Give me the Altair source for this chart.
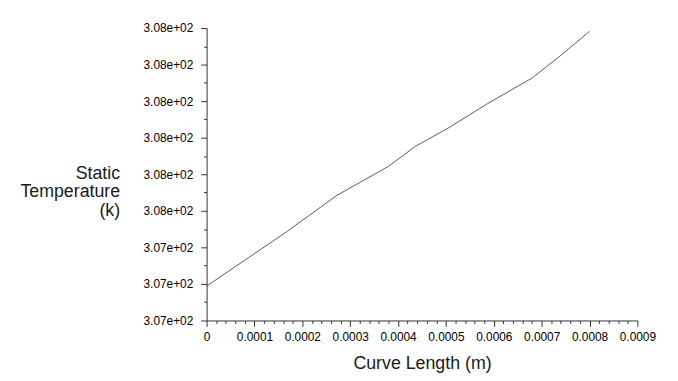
import altair as alt
import pandas as pd

# Data
curve_length = [0.0, 0.0001676, 0.0002707, 0.0003806, 0.0004357, 0.0005043,
                0.0005868, 0.0006796, 0.0007381, 0.0008]
static_temp = [307.294, 307.443, 307.541, 307.622, 307.676, 307.726,
               307.793, 307.863, 307.923, 307.991]

# Axis ticks
y_major = [307.2, 307.3, 307.4, 307.5, 307.6, 307.7, 307.8, 307.9, 308.0]
y_minor = [307.25, 307.35, 307.45, 307.55, 307.65, 307.75, 307.85, 307.95]
x_major = [0.0, 0.0001, 0.0002, 0.0003, 0.0004, 0.0005, 0.0006, 0.0007, 0.0008, 0.0009]
x_minor = [round(m + k * 0.00002, 6) for m in x_major[:-1] for k in (1, 2, 3, 4)]

df = pd.DataFrame({"x": curve_length, "y": static_temp})

FONT = "Liberation Sans"

x_major_test = "abs(datum.value*10000 - round(datum.value*10000)) < 1e-6"
y_major_test = "abs(datum.value*10 - round(datum.value*10)) < 1e-6"

chart = alt.Chart(df).mark_line(color="#5a5a5a", strokeWidth=1).encode(
    x=alt.X(
        "x:Q",
        scale=alt.Scale(domain=[0, 0.0009], nice=False, zero=False),
        axis=alt.Axis(
            values=sorted(x_major + x_minor),
            labelExpr=f"({x_major_test}) ? (datum.value == 0 ? '0' : format(datum.value, '.4f')) : ''",
            tickSize={"condition": {"test": x_major_test, "value": 6}, "value": 3},
            labelOverlap=False,
            labelFlush=False,
            labelPadding=5,
            title="Curve Length (m)",
            titleY=44,
            titleBaseline="middle",
        ),
    ),
    y=alt.Y(
        "y:Q",
        scale=alt.Scale(domain=[307.2, 308.0], nice=False, zero=False),
        axis=alt.Axis(
            values=sorted(y_major + y_minor),
            labelExpr=f"({y_major_test}) ? replace(format(datum.value, '.2e'), 'e+2', 'e+02') : ''",
            tickSize={"condition": {"test": y_major_test, "value": 6}, "value": 3},
            labelOverlap=False,
            labelFlush=False,
            labelPadding=8,
            title=["Static", "Temperature", "(k)"],
            titleAngle=0,
            titleAlign="right",
            titleBaseline="middle",
            titleX=-88,
            titleY=147,
            titleLineHeight=19,
        ),
    ),
).properties(
    width=436,
    height=296,
    autosize=alt.AutoSizeParams(type="none"),
    padding={"left": 201, "top": 18, "right": 33, "bottom": 59},
).configure_view(
    stroke=None
).configure_axis(
    grid=False,
    domainColor="#333333",
    tickColor="#333333",
    labelColor="#000000",
    labelFont=FONT,
    labelFontSize=12,
    titleFont=FONT,
    titleFontSize=18,
    titleFontWeight="normal",
    titleColor="#1a1a1a",
)

chart.save("out.html", embed_options={"renderer": "svg", "actions": False})
